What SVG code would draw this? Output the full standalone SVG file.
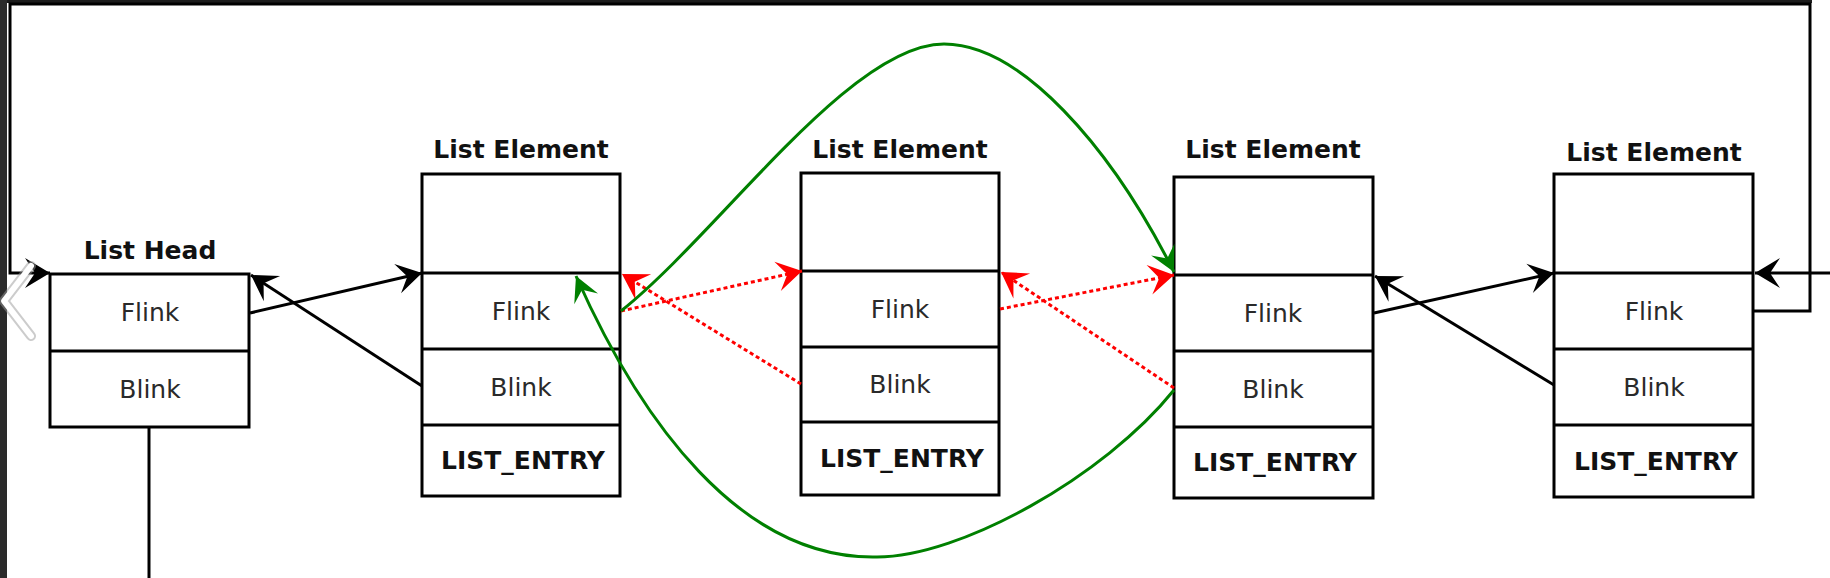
<svg xmlns="http://www.w3.org/2000/svg" width="1830" height="578" viewBox="0 0 1830 578">
<style>
.box{fill:#fff;stroke:#000;stroke-width:3}
.div{stroke:#000;stroke-width:3}
.t{font-family:"DejaVu Sans","Liberation Sans",sans-serif;font-size:25px;fill:#2a2a2a;text-anchor:middle}
.b{font-family:"DejaVu Sans","Liberation Sans",sans-serif;font-size:25px;font-weight:bold;fill:#111;text-anchor:middle}
.blk{fill:none;stroke:#000;stroke-width:3}
.red{fill:none;stroke:#f00;stroke-width:3;stroke-dasharray:4 3}
.grn{fill:none;stroke:#008000;stroke-width:3}
</style>
<defs>
<marker id="ab" markerUnits="userSpaceOnUse" viewBox="-26 -16 27 32" refX="0" refY="0" markerWidth="27" markerHeight="32" orient="auto"><path d="M0,0 L-25,-15 L-15,0 L-25,15 Z" fill="#000"/></marker>
<marker id="ar" markerUnits="userSpaceOnUse" viewBox="-26 -16 27 32" refX="0" refY="0" markerWidth="27" markerHeight="32" orient="auto"><path d="M0,0 L-25,-15 L-15,0 L-25,15 Z" fill="#f00"/></marker>
<marker id="ag" markerUnits="userSpaceOnUse" viewBox="-26 -16 27 32" refX="0" refY="0" markerWidth="27" markerHeight="32" orient="auto"><path d="M0,0 L-25,-13 L-15,0 L-25,13 Z" fill="#008000"/></marker>
</defs>
<rect x="0" y="0" width="1830" height="578" fill="#fff"/>
<rect x="0" y="0" width="1812" height="3" fill="#1c1c1c"/>
<rect x="0" y="0" width="7" height="578" fill="#2b2b2b"/>

<g id="list-head">
<rect class="box" x="50" y="274" width="199" height="153"/>
<line class="div" x1="50" y1="351" x2="249" y2="351"/>
<text class="b" x="150" y="259">List Head</text>
<text class="t" x="150" y="321">Flink</text>
<text class="t" x="150" y="398">Blink</text>
</g>

<g id="element-1">
<rect class="box" x="422" y="174" width="198" height="322"/>
<line class="div" x1="422" y1="273" x2="620" y2="273"/>
<line class="div" x1="422" y1="349" x2="620" y2="349"/>
<line class="div" x1="422" y1="425" x2="620" y2="425"/>
<text class="b" x="521" y="158">List Element</text>
<text class="t" x="521" y="320">Flink</text>
<text class="t" x="521" y="396">Blink</text>
<text class="b" x="523" y="469">LIST_ENTRY</text>
</g>

<g id="element-2">
<rect class="box" x="801" y="173" width="198" height="322"/>
<line class="div" x1="801" y1="271" x2="999" y2="271"/>
<line class="div" x1="801" y1="347" x2="999" y2="347"/>
<line class="div" x1="801" y1="422" x2="999" y2="422"/>
<text class="b" x="900" y="158">List Element</text>
<text class="t" x="900" y="318">Flink</text>
<text class="t" x="900" y="393">Blink</text>
<text class="b" x="902" y="467">LIST_ENTRY</text>
</g>

<g id="element-3">
<rect class="box" x="1174" y="177" width="199" height="321"/>
<line class="div" x1="1174" y1="275" x2="1373" y2="275"/>
<line class="div" x1="1174" y1="351" x2="1373" y2="351"/>
<line class="div" x1="1174" y1="427" x2="1373" y2="427"/>
<text class="b" x="1273" y="158">List Element</text>
<text class="t" x="1273" y="322">Flink</text>
<text class="t" x="1273" y="398">Blink</text>
<text class="b" x="1275" y="471">LIST_ENTRY</text>
</g>

<g id="element-4">
<rect class="box" x="1554" y="174" width="199" height="323"/>
<line class="div" x1="1554" y1="273" x2="1753" y2="273"/>
<line class="div" x1="1554" y1="349" x2="1753" y2="349"/>
<line class="div" x1="1554" y1="425" x2="1753" y2="425"/>
<text class="b" x="1654" y="161">List Element</text>
<text class="t" x="1654" y="320">Flink</text>
<text class="t" x="1654" y="396">Blink</text>
<text class="b" x="1656" y="470">LIST_ENTRY</text>
</g>

<g id="connectors">
<path class="blk" d="M1753,311 H1810 V4 H10 V273 H50" marker-end="url(#ab)"/>
<line class="blk" x1="1830" y1="273" x2="1755" y2="273" marker-end="url(#ab)"/>
<line class="blk" x1="149" y1="427" x2="149" y2="578"/>
<line class="blk" x1="250" y1="313" x2="422" y2="273" marker-end="url(#ab)"/>
<line class="blk" x1="422" y1="386" x2="251" y2="275" marker-end="url(#ab)"/>
<line class="blk" x1="1374" y1="313" x2="1554" y2="273" marker-end="url(#ab)"/>
<line class="blk" x1="1554" y1="385" x2="1375" y2="276" marker-end="url(#ab)"/>
<line class="red" x1="621" y1="311" x2="802" y2="271" marker-end="url(#ar)"/>
<line class="red" x1="801" y1="384" x2="622" y2="274" marker-end="url(#ar)"/>
<line class="red" x1="1000" y1="309" x2="1174" y2="275" marker-end="url(#ar)"/>
<line class="red" x1="1174" y1="388" x2="1001" y2="272" marker-end="url(#ar)"/>
<path class="grn" d="M621,311 C720,232 850,44 944,44 C1020,44 1110,145 1174,272" marker-end="url(#ag)"/>
<path class="grn" d="M1174,390 C1104,477 960,557 877,557 C740,560 640,420 576,276" marker-end="url(#ag)"/>
</g>

<path d="M31,266 L4,301 L31,336" fill="none" stroke="#999" stroke-opacity="0.5" stroke-width="10" stroke-linecap="round" stroke-linejoin="round"/>
<path d="M31,266 L4,301 L31,336" fill="none" stroke="#fff" stroke-width="6" stroke-linecap="round" stroke-linejoin="round"/>
</svg>
